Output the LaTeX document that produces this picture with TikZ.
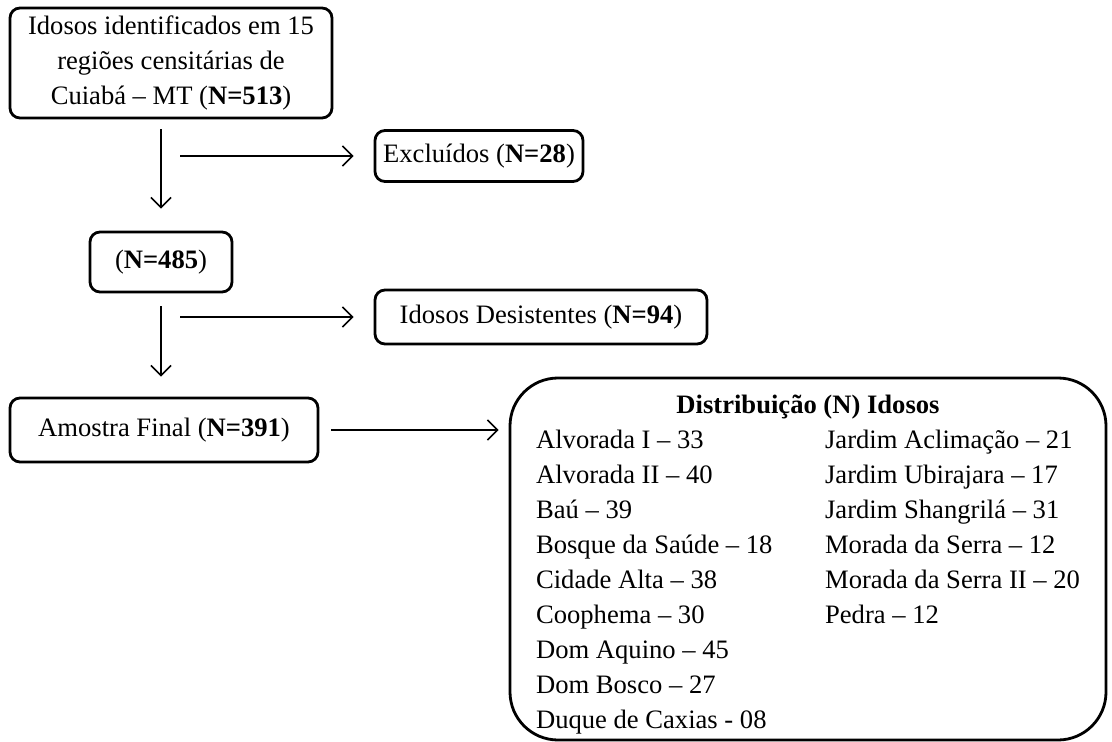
\documentclass[tikz,border=0pt]{standalone}
\usepackage{fontspec}
\setmainfont{Liberation Serif}
\usepackage{tikz}
\usetikzlibrary{arrows.meta,positioning}
\tikzset{
  caixa/.style={draw, rounded corners=5pt, line width=1.4pt, inner sep=0pt, align=center},
  seta/.style={-{Straight Barb[length=5pt,width=10pt]}, line width=0.8pt}
}

\begin{document}
\begin{tikzpicture}[x=0.5pt, y=-0.5pt, font=\fontsize{13.3}{17.5}\selectfont]
    \useasboundingbox (0,0) rectangle (1112,742);
    \node [caixa, minimum width=161pt, minimum height=55pt] (idosos) at (171,63)
      {Idosos identificados em 15\\ regiões censitárias de\\ Cuiabá – MT (\textbf{N=513})};
    \node [caixa, minimum width=104pt, minimum height=25.5pt] (excluidos) at (479,156) {Excluídos (\textbf{N=28})};
    \node [caixa, minimum width=71pt, minimum height=30pt] (n485) at (161,262) {(\textbf{N=485})};
    \node [caixa, minimum width=166pt, minimum height=27pt] (desist) at (541,317) {Idosos Desistentes (\textbf{N=94})};
    \node [caixa, minimum width=154pt, minimum height=32pt] (amostra) at (164,430) {Amostra Final (\textbf{N=391})};
    \node [caixa, rounded corners=24pt, minimum width=298pt, minimum height=181pt] (dist) at (808,559)
      {\begin{tabular}{@{}p{144.5pt}@{}l@{}}
        \multicolumn{2}{c}{\rule{0pt}{17pt}\textbf{Distribuição (N) Idosos}}\\
        Alvorada I – 33 & Jardim Aclimação – 21\\
        Alvorada II – 40 & Jardim Ubirajara – 17\\
        Baú – 39 & Jardim Shangrilá – 31\\
        Bosque da Saúde – 18 & Morada da Serra – 12\\
        Cidade Alta – 38 & Morada da Serra II – 20\\
        Coophema – 30 & Pedra – 12\\
        Dom Aquino – 45 & \\
        Dom Bosco – 27 & \\
        Duque de Caxias - 08 & \\
      \end{tabular}};
    \coordinate (s1) at (180,156);
    \coordinate (s2) at (180,317);
    \draw [seta, shorten <=5pt, shorten >=11pt] (idosos.south -| n485) -- (n485.north);
    \draw [seta, shorten >=10pt] (s1) -- (excluidos.west);
    \draw [seta, shorten <=6.5pt, shorten >=10pt] (n485.south) -- (amostra.north -| n485);
    \draw [seta, shorten >=10pt] (s2) -- (desist.west);
    \draw [seta, shorten <=6pt, shorten >=5pt] (amostra.east) -- (amostra.east -| dist.west);
\end{tikzpicture}
\end{document}
